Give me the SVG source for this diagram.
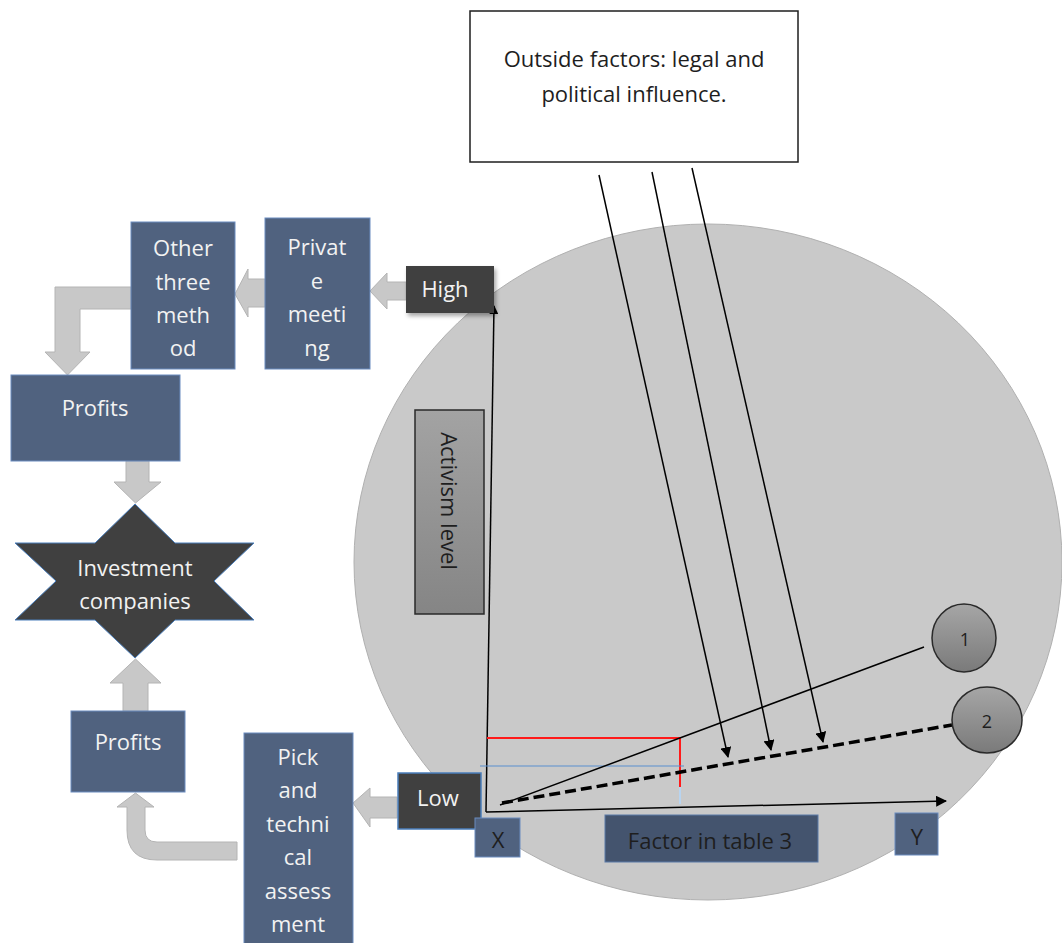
<svg xmlns="http://www.w3.org/2000/svg" width="1062" height="943" viewBox="0 0 1062 943">
<style>
text{font-family:"Open Sans","Noto Sans","Liberation Sans",sans-serif;font-size:22px;text-anchor:middle}
.wt{fill:#f2f2f2}
.dk{fill:#1e1e1e}
.blue{fill:#50627f;stroke:#6a8cc0;stroke-width:1}
.dark{fill:#404040}
.barrow{fill:#c8c8c8;stroke:#b4b4b4;stroke-width:1}
.ln{stroke:#000;stroke-width:1.5;fill:none}
</style>
<defs>
<marker id="ah" viewBox="0 0 10 10" refX="9" refY="5" markerWidth="11" markerHeight="11" markerUnits="userSpaceOnUse" orient="auto">
<path d="M0,0 L10,5 L0,10 z" fill="#000"/>
</marker>
<marker id="ahs" viewBox="0 0 10 10" refX="9" refY="5" markerWidth="9" markerHeight="9" markerUnits="userSpaceOnUse" orient="auto">
<path d="M0,0 L10,5 L0,10 z" fill="#000"/>
</marker>
<linearGradient id="gball" x1="0" y1="0" x2="0" y2="1">
<stop offset="0" stop-color="#a6a6a6"/>
<stop offset="1" stop-color="#7a7a7a"/>
</linearGradient>
<linearGradient id="gact" x1="0" y1="0" x2="0" y2="1">
<stop offset="0" stop-color="#a3a3a3"/>
<stop offset="1" stop-color="#858585"/>
</linearGradient>
<filter id="sh" x="-20%" y="-20%" width="150%" height="160%">
<feDropShadow dx="2" dy="3" stdDeviation="2" flood-color="#000" flood-opacity="0.35"/>
</filter>
</defs>

<g id="big-circle">
<ellipse cx="708" cy="562" rx="354" ry="338" fill="#c9c9c9" stroke="#b0b0b0" stroke-width="1"/>
</g>

<g id="outside-factors">
<rect x="470" y="11" width="328" height="151" fill="#fff" stroke="#1e1e1e" stroke-width="1.5"/>
<text class="dk" x="634" y="67">Outside factors: legal and</text>
<text class="dk" x="634" y="102">political influence.</text>
</g>

<g id="connectors">
<!-- block arrows -->
<polygon class="barrow" points="406,282 387,282 387,273 370,291 387,309 387,300 406,300"/>
<polygon class="barrow" points="265,279 248,279 248,269 235,294 248,317 248,307 265,307"/>
<polygon class="barrow" points="131,287 55,287 55,352 45,352 67.5,375 90,352 80,352 80,309 131,309"/>
<polygon class="barrow" points="126,461 149,461 149,482 161,482 135.5,503 114,482 126,482"/>
<polygon class="barrow" points="123,711 148,711 148,683 161,683 135.5,659 110,683 123,683"/>
<path class="barrow" d="M237,842 L157,842 Q145,842 145,830 L145,807 L154,807 L135.5,793 L117,807 L127,807 L127,830 Q127,860 157,860 L237,860 Z"/>
<polygon class="barrow" points="397,797 370,797 370,788 353,803 370,827 370,818 397,818"/>
<!-- axes -->
<line class="ln" x1="486" y1="812" x2="494" y2="306" marker-end="url(#ahs)"/>
<line class="ln" x1="486" y1="812" x2="946" y2="801" marker-end="url(#ah)"/>
<!-- reference lines -->
<polyline points="487,738 680,738 680,787" fill="none" stroke="#ff1a1a" stroke-width="2"/>
<line x1="680" y1="787" x2="680" y2="804" stroke="#b8d4f0" stroke-width="2"/>
<line x1="480" y1="766" x2="684" y2="766" stroke="#5b8fd0" stroke-width="1.2"/>
<!-- curves 1 and 2 -->
<line class="ln" x1="500" y1="805" x2="924" y2="647"/>
<line x1="502" y1="803" x2="952" y2="725" stroke="#000" stroke-width="3.5" stroke-dasharray="11 5"/>
<!-- outside influence arrows -->
<line class="ln" x1="599" y1="175" x2="728" y2="757" marker-end="url(#ah)"/>
<line class="ln" x1="652" y1="172" x2="771" y2="750" marker-end="url(#ah)"/>
<line class="ln" x1="692" y1="168" x2="823" y2="742" marker-end="url(#ah)"/>
</g>

<g id="other-three-method">
<rect class="blue" x="131" y="222" width="104" height="147"/>
<text class="wt" x="183" y="256">Other</text>
<text class="wt" x="183" y="290">three</text>
<text class="wt" x="183" y="323">meth</text>
<text class="wt" x="183" y="356">od</text>
</g>

<g id="private-meeting">
<rect class="blue" x="265" y="218" width="105" height="151"/>
<text class="wt" x="317" y="255">Privat</text>
<text class="wt" x="317" y="289">e</text>
<text class="wt" x="317" y="322">meeti</text>
<text class="wt" x="317" y="356">ng</text>
</g>

<g id="high">
<rect class="dark" x="406" y="266" width="88" height="47" filter="url(#sh)"/>
<text class="wt" x="445" y="297">High</text>
</g>

<g id="profits-top">
<rect class="blue" x="11" y="375" width="169" height="86"/>
<text class="wt" x="95" y="416">Profits</text>
</g>

<g id="investment-companies">
<polygon points="135,504 175,543 254,543 214,581 254,620 175,620 135,658 95,620 15,620 56,581 15,543 95,543" fill="#404040" stroke="#4a7ebb" stroke-width="1"/>
<text class="wt" x="135" y="576">Investment</text>
<text class="wt" x="135" y="609">companies</text>
</g>

<g id="profits-bottom">
<rect class="blue" x="71" y="711" width="114" height="81"/>
<text class="wt" x="128" y="750">Profits</text>
</g>

<g id="pick-assessment">
<rect class="blue" x="244" y="733" width="109" height="215"/>
<text class="wt" x="298" y="765">Pick</text>
<text class="wt" x="298" y="798">and</text>
<text class="wt" x="298" y="832">techni</text>
<text class="wt" x="298" y="865">cal</text>
<text class="wt" x="298" y="899">assess</text>
<text class="wt" x="298" y="932">ment</text>
</g>

<g id="low">
<rect x="398" y="773" width="83" height="56" fill="#404040" stroke="#4a7ebb" stroke-width="1.5"/>
<text class="wt" x="438" y="806">Low</text>
</g>

<g id="activism-level">
<rect x="415" y="410" width="69" height="204" fill="url(#gact)" stroke="#2a2a2a" stroke-width="1.5"/>
<text class="dk" transform="translate(449,501) rotate(90)" x="0" y="8">Activism level</text>
</g>

<g id="x-label">
<rect class="blue" x="475" y="818" width="45" height="39"/>
<text class="dk" x="498" y="848">X</text>
</g>

<g id="factor-label">
<rect x="605" y="815" width="213" height="47" fill="#44546e" stroke="#5b7aa8" stroke-width="1"/>
<text class="dk" x="710" y="849">Factor in table 3</text>
</g>

<g id="y-label">
<rect class="blue" x="895" y="813" width="43" height="42"/>
<text class="dk" x="917" y="845">Y</text>
</g>

<g id="curve-1">
<ellipse cx="964" cy="638" rx="32" ry="34" fill="url(#gball)" stroke="#2a2a2a" stroke-width="1.5"/>
<text class="dk" x="965" y="646" style="font-size:18px">1</text>
</g>

<g id="curve-2">
<ellipse cx="987" cy="720" rx="35" ry="33" fill="url(#gball)" stroke="#2a2a2a" stroke-width="1.5"/>
<text class="dk" x="987" y="728" style="font-size:18px">2</text>
</g>
</svg>
